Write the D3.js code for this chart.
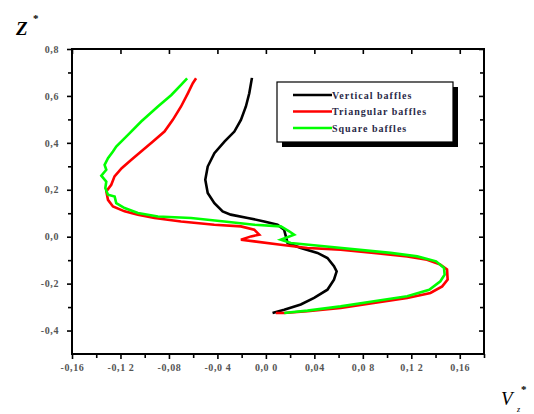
<!DOCTYPE html>
<html>
<head>
<meta charset="utf-8">
<script src="https://cdn.jsdelivr.net/npm/d3@7/dist/d3.min.js"></script>
<style>
  html, body { margin: 0; padding: 0; background: #fff; }
  svg { display: block; }
</style>
</head>
<body>
<svg id="chart" width="534" height="414"></svg>
<script>
// ---------------- data ----------------
const seriesNames = ["Vertical baffles", "Triangular baffles", "Square baffles"];
const seriesColors = ["#000000", "#ff0000", "#00ff00"];

const verticalV = [-0.0115,-0.0137,-0.0165,-0.0206,-0.026,-0.034,-0.0425,-0.048,-0.050,-0.048,-0.0425,-0.0357,-0.029,-0.015,-0.0014,0.0096,0.015,0.0165,0.0179,0.0288,0.0426,0.0508,0.0562,0.0584,0.0562,0.0508,0.0398,0.0288,0.0151,0.0055];
const verticalZ = [0.677,0.611,0.555,0.498,0.448,0.406,0.356,0.299,0.243,0.186,0.143,0.108,0.094,0.080,0.065,0.051,0.030,0.001,-0.027,-0.048,-0.069,-0.091,-0.126,-0.148,-0.183,-0.226,-0.261,-0.289,-0.311,-0.325];

const triangularV = [-0.0576,-0.0603,-0.0644,-0.070,-0.0768,-0.0837,-0.0932,-0.1015,-0.111,-0.119,-0.1249,-0.1276,-0.1317,-0.1303,-0.1262,-0.1166,-0.1056,-0.0919,-0.070,-0.0426,-0.0206,-0.0096,-0.0055,-0.0123,-0.0206,-0.0096,0.0123,0.0343,0.0617,0.0891,0.1166,0.133,0.144,0.1495,0.150,0.1455,0.1358,0.1166,0.0891,0.0617,0.0343,0.0151,0.0082];
const triangularZ = [0.675,0.654,0.611,0.555,0.498,0.448,0.406,0.370,0.328,0.292,0.257,0.221,0.193,0.157,0.129,0.108,0.094,0.080,0.065,0.051,0.044,0.030,0.0085,0.0013,-0.013,-0.020,-0.034,-0.048,-0.055,-0.069,-0.084,-0.098,-0.119,-0.140,-0.183,-0.212,-0.240,-0.261,-0.282,-0.304,-0.318,-0.325,-0.325];

const squareV = [-0.065,-0.070,-0.078,-0.0891,-0.1029,-0.1138,-0.1235,-0.1262,-0.1303,-0.1331,-0.1317,-0.1358,-0.1317,-0.1325,-0.1303,-0.1248,-0.1235,-0.1166,-0.1056,-0.0891,-0.0617,-0.0343,-0.0096,0.0123,0.0192,0.0233,0.0123,0.0206,0.048,0.0755,0.1029,0.1249,0.1405,0.147,0.1475,0.144,0.1348,0.1166,0.0891,0.0617,0.0343,0.0206,0.0151];
const squareZ = [0.675,0.647,0.604,0.555,0.491,0.434,0.384,0.363,0.335,0.306,0.285,0.260,0.235,0.207,0.179,0.171,0.143,0.122,0.101,0.086,0.080,0.065,0.051,0.044,0.023,0.0085,-0.013,-0.027,-0.041,-0.055,-0.069,-0.084,-0.105,-0.133,-0.162,-0.190,-0.226,-0.254,-0.275,-0.297,-0.315,-0.322,-0.325];

const xTickValues = [-0.16,-0.12,-0.08,-0.04,0.00,0.04,0.08,0.12,0.16];
const xTickLabels = ["-0,16","-0,1 2","-0,08","-0,0 4","0,0 0","0,04","0,0 8","0,1 2","0,16"];
const yTickValues = [-0.4,-0.2,0.0,0.2,0.4,0.6,0.8];
const yTickLabels = ["-0,4","-0,2","0,0","0,2","0,4","0,6","0,8"];

// ---------------- layout ----------------
const svg = d3.select("#chart");
const L = 72, R = 484, T = 49, B = 354;
const x = d3.scaleLinear().domain([-0.16, 0.18]).range([L, R]);
const y = d3.scaleLinear().domain([-0.5, 0.8]).range([B, T]);

const tickFont = "'Liberation Serif', 'Times New Roman', serif";

// minor ticks
const xMinor = d3.range(-0.14, 0.181, 0.04).map(v => +v.toFixed(2));
const yMinor = d3.range(-0.3, 0.71, 0.2).map(v => +v.toFixed(2));

// bottom axis
const gx = svg.append("g").attr("transform", `translate(0,${B})`)
  .call(d3.axisBottom(x).tickValues(xTickValues).tickSize(5).tickPadding(5)
    .tickFormat((d, i) => xTickLabels[i]));
gx.append("g").call(d3.axisBottom(x).tickValues(xMinor).tickSize(4).tickFormat(""));

// left axis
const gy = svg.append("g").attr("transform", `translate(${L},0)`)
  .call(d3.axisLeft(y).tickValues(yTickValues).tickSize(5).tickPadding(8)
    .tickFormat((d, i) => yTickLabels[i]));
gy.append("g").call(d3.axisLeft(y).tickValues(yMinor).tickSize(4).tickFormat(""));

// top axis (inward major ticks)
svg.append("g").attr("transform", `translate(0,${T})`)
  .call(d3.axisBottom(x).tickValues(xTickValues).tickSize(5).tickFormat(""));
// right axis (inward ticks)
const gr = svg.append("g").attr("transform", `translate(${R},0)`)
  .call(d3.axisLeft(y).tickValues(yTickValues).tickSize(5).tickFormat(""));
gr.append("g").call(d3.axisLeft(y).tickValues(yMinor).tickSize(4).tickFormat(""));

svg.selectAll(".domain").remove();
svg.selectAll(".tick line").attr("stroke", "#000").attr("stroke-width", 1.6);
svg.selectAll(".tick text")
  .attr("font-family", tickFont).attr("font-weight", "bold")
  .attr("font-size", 10).attr("letter-spacing", 0.6).attr("fill", "#555");

// frame
svg.append("rect").attr("x", L).attr("y", T).attr("width", R - L).attr("height", B - T)
  .attr("fill", "none").attr("stroke", "#000").attr("stroke-width", 2);

// ---------------- lines ----------------
const series = [
  { v: verticalV, z: verticalZ },
  { v: triangularV, z: triangularZ },
  { v: squareV, z: squareZ }
];
const line = d3.line().x(d => x(d[0])).y(d => y(d[1]));
series.forEach((s, i) => {
  const pts = s.v.map((v, k) => [v, s.z[k]]);
  svg.append("path").datum(pts)
    .attr("d", line)
    .attr("fill", "none")
    .attr("stroke", seriesColors[i])
    .attr("stroke-width", 2.6)
    .attr("stroke-linejoin", "miter");
});

// ---------------- legend ----------------
const lgX = 277, lgY = 82, lgW = 176, lgH = 60;
svg.append("rect").attr("x", lgX + 5).attr("y", lgY + 5).attr("width", lgW).attr("height", lgH)
  .attr("fill", "#000");
svg.append("rect").attr("x", lgX).attr("y", lgY).attr("width", lgW).attr("height", lgH)
  .attr("fill", "#fff").attr("stroke", "#000").attr("stroke-width", 1.2);
seriesNames.forEach((name, i) => {
  const yy = lgY + 13 + i * 16.5;
  svg.append("line").attr("x1", lgX + 16).attr("x2", lgX + 55)
    .attr("y1", yy).attr("y2", yy)
    .attr("stroke", seriesColors[i]).attr("stroke-width", 2.6);
  svg.append("text").attr("x", lgX + 55).attr("y", yy + 3.5)
    .attr("font-family", tickFont).attr("font-weight", "bold")
    .attr("font-size", 10).attr("letter-spacing", 1)
    .attr("fill", "#2a2a48").text(name);
});

// ---------------- axis titles ----------------
svg.append("text").attr("x", 16).attr("y", 35)
  .attr("font-family", tickFont).attr("font-style", "italic").attr("font-weight", "bold")
  .attr("font-size", 19).attr("fill", "#000").text("Z");
svg.append("text").attr("x", 33).attr("y", 22)
  .attr("font-family", tickFont).attr("font-weight", "bold")
  .attr("font-size", 11).attr("fill", "#000").text("*");

svg.append("text").attr("x", 501).attr("y", 405)
  .attr("font-family", tickFont).attr("font-style", "italic")
  .attr("font-size", 19).attr("fill", "#000").text("V");
svg.append("text").attr("x", 521).attr("y", 393)
  .attr("font-family", tickFont).attr("font-weight", "bold")
  .attr("font-size", 11).attr("fill", "#000").text("*");
svg.append("text").attr("x", 517).attr("y", 412)
  .attr("font-family", tickFont).attr("font-style", "italic")
  .attr("font-size", 8).attr("fill", "#000").text("z");
</script>
</body>
</html>
